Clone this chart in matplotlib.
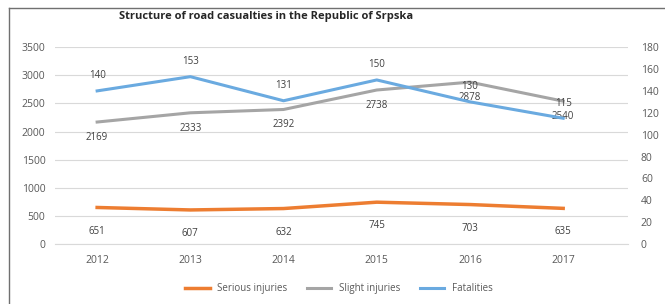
import matplotlib.pyplot as plt

years = ['2012', '2013', '2014', '2015', '2016', '2017']
serious = [651, 607, 632, 745, 703, 635]
slight = [2169, 2333, 2392, 2738, 2878, 2540]
fatalities = [140, 153, 131, 150, 130, 115]

plt.rcParams['font.family'] = ['Open Sans', 'DejaVu Sans']

fig = plt.figure(figsize=(6.65, 3.04), dpi=100)
ax = fig.add_axes([0.083, 0.197, 0.862, 0.648])
ax2 = ax.twinx()

x = list(range(len(years)))
ax.plot(x, serious, color='#ED7D31', lw=2.5, label='Serious injuries')
ax.plot(x, slight, color='#A5A5A5', lw=2.2, label='Slight injuries')
ax2.plot(x, fatalities, color='#6AAAE0', lw=2.2, label='Fatalities')

lab = dict(fontsize=7, color='#404040', ha='center')
for i in x:
    ax.annotate(str(serious[i]), (i, serious[i]), xytext=(0, -13), textcoords='offset points', va='top', **lab)
    ax.annotate(str(slight[i]), (i, slight[i]), xytext=(0, -7), textcoords='offset points', va='top', **lab)
    ax2.annotate(str(fatalities[i]), (i, fatalities[i]), xytext=(0, 7), textcoords='offset points', va='bottom', **lab)

ax.set_xlim(-0.45, len(years) - 0.3)
ax.set_ylim(0, 3500)
ax2.set_ylim(0, 180)
ax.set_yticks(range(0, 3501, 500))
ax2.set_yticks(range(0, 181, 20))
ax.set_xticks(x)
ax.set_xticklabels(years)
ax.grid(axis='y', color='#D9D9D9', lw=0.8)
ax.set_axisbelow(True)
for a in (ax, ax2):
    for s in a.spines.values():
        s.set_visible(False)
    a.tick_params(length=0, labelsize=7.5, colors='#595959')
ax.spines['bottom'].set_visible(True)
ax.spines['bottom'].set_color('#D9D9D9')
ax.tick_params(axis='y', pad=7)
ax2.tick_params(axis='y', pad=9)
ax.tick_params(axis='x', pad=8)

fig.text(0.40, 0.945, 'Structure of road casualties in the Republic of Srpska',
         ha='center', va='center', fontsize=8, fontweight='bold', color='#262626')

h1, l1 = ax.get_legend_handles_labels()
h2, l2 = ax2.get_legend_handles_labels()
fig.legend(h1 + h2, l1 + l2, loc='center', bbox_to_anchor=(0.51, 0.05), ncol=3,
           frameon=False, fontsize=7, labelcolor='#595959', handlelength=2.5)

# frame only shows on the top and left in the crop
fig.add_artist(plt.Line2D([0.013, 1.0], [0.973, 0.973], transform=fig.transFigure, color='#707070', lw=1))
fig.add_artist(plt.Line2D([0.013, 0.013], [0.0, 0.973], transform=fig.transFigure, color='#707070', lw=1))

fig.savefig('out.png', dpi=100)
